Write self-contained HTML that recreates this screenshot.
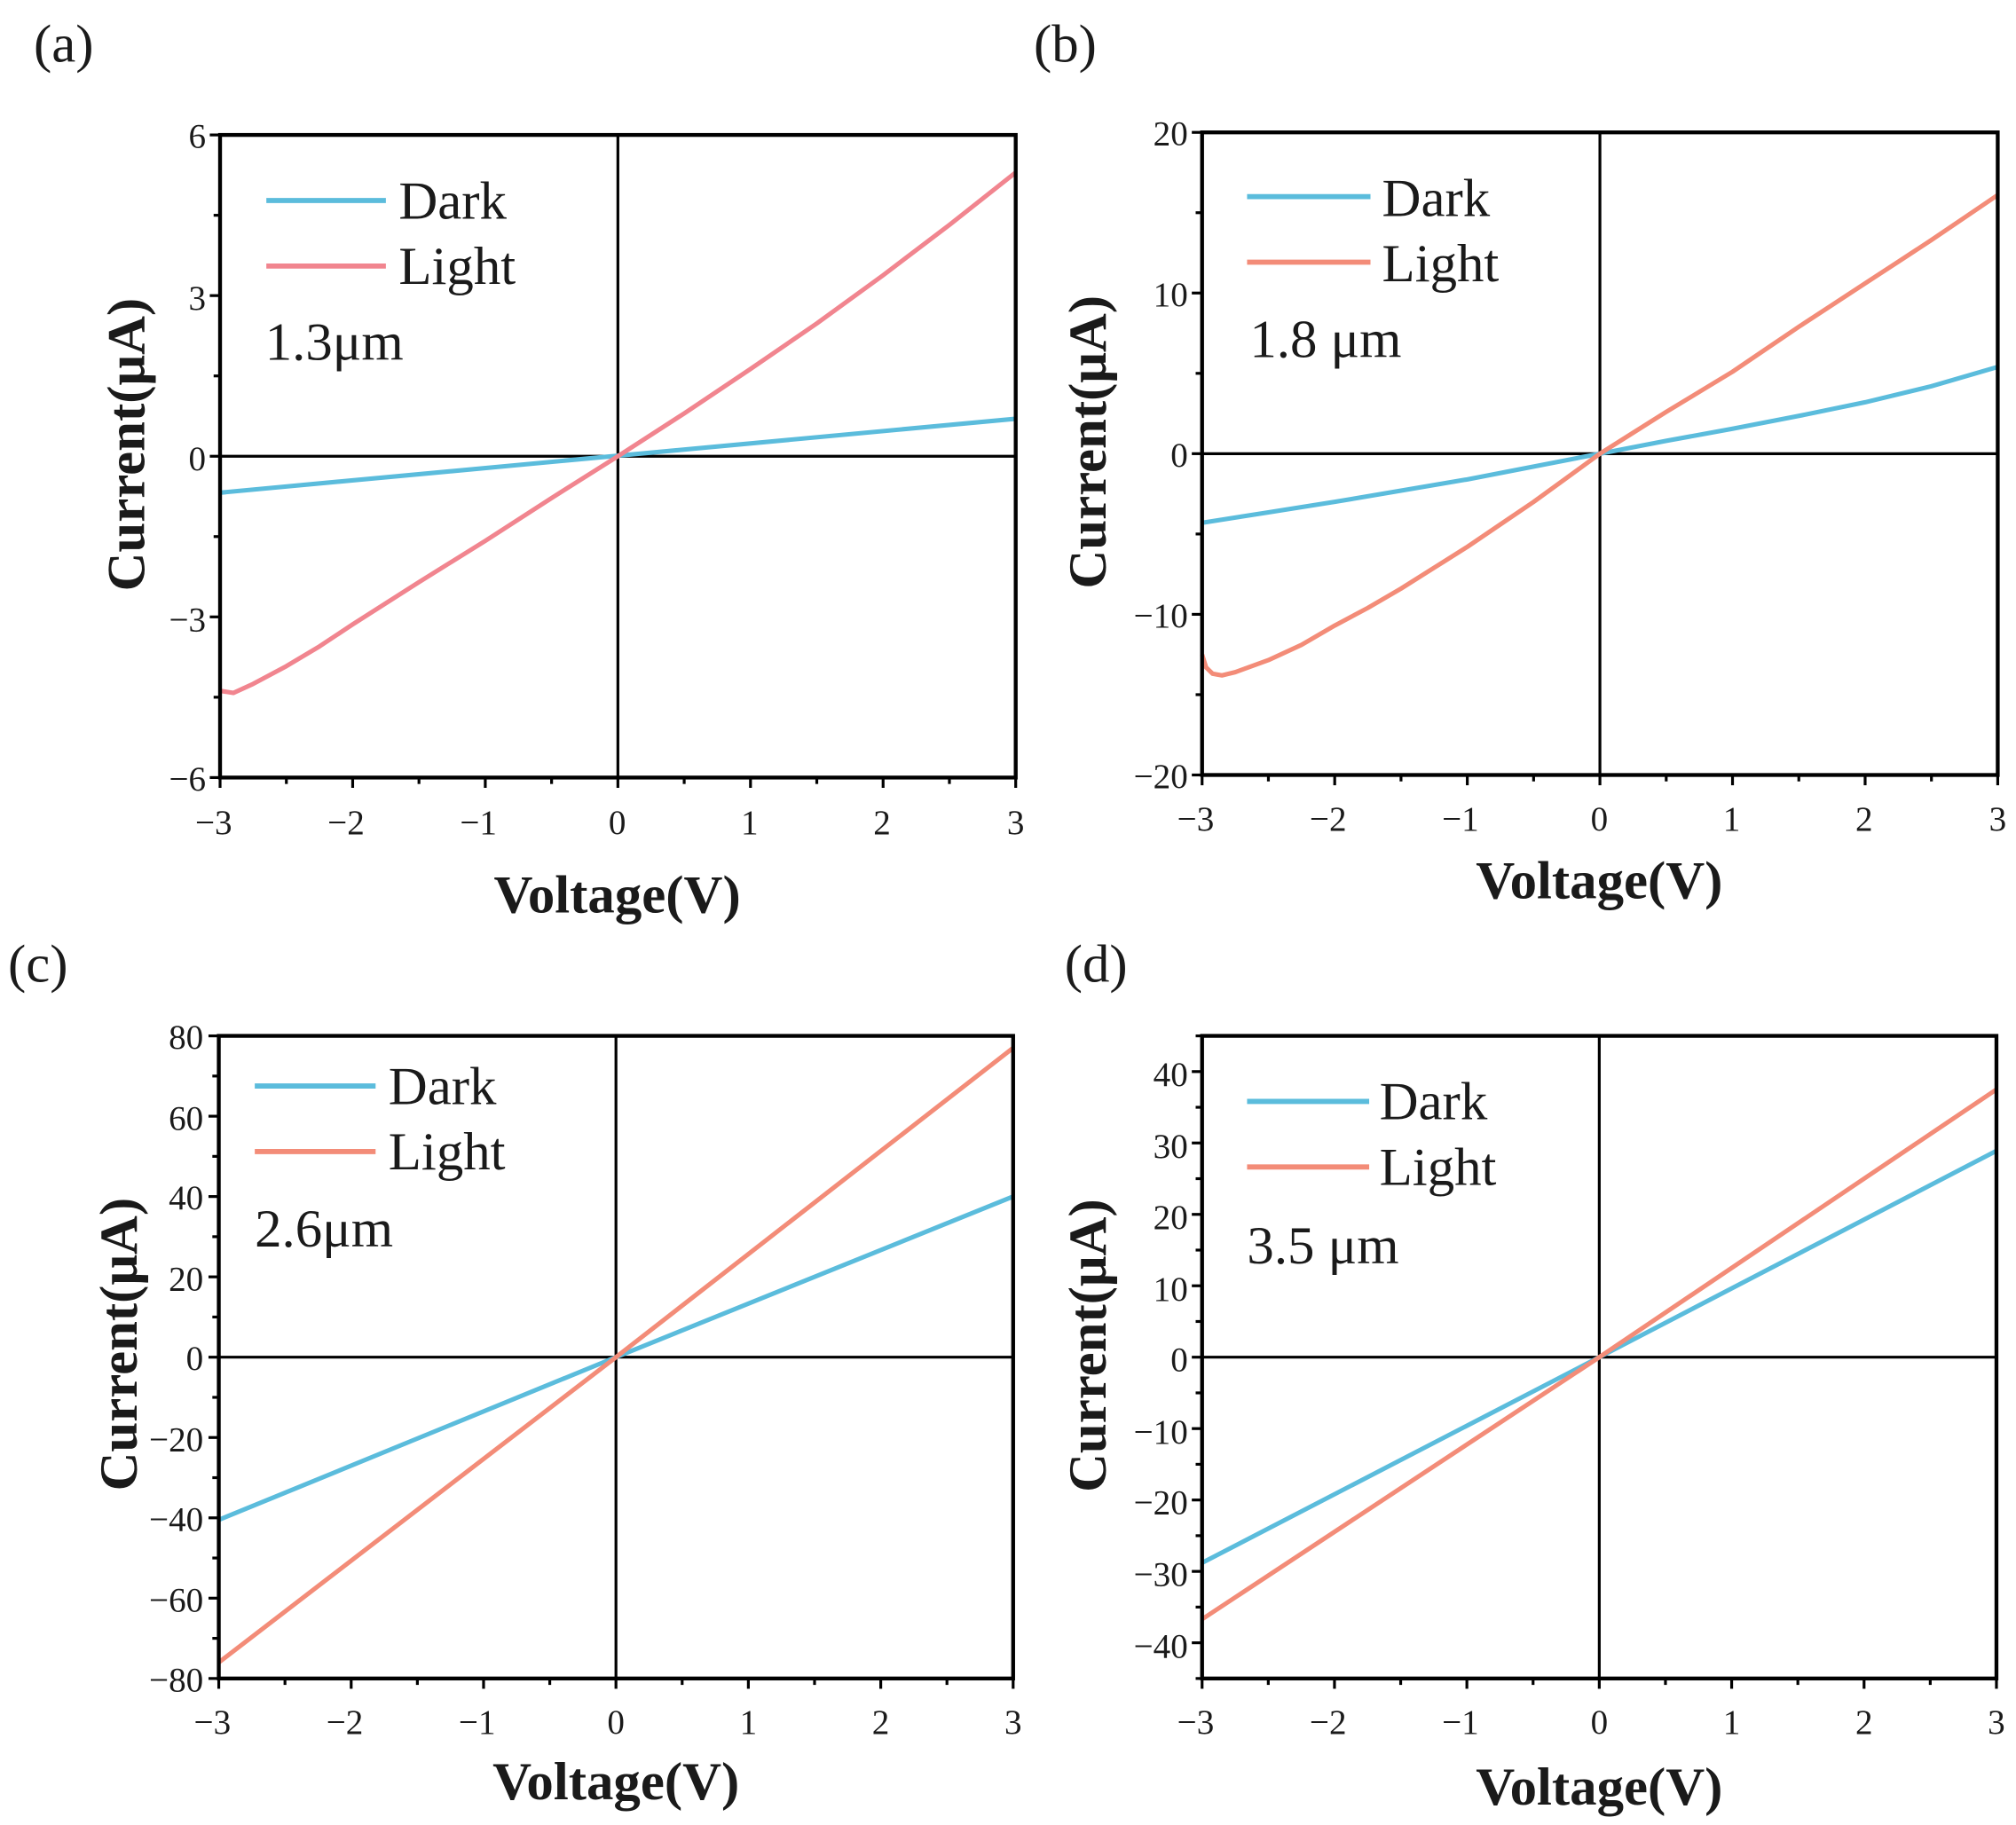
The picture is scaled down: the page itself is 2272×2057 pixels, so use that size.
<!DOCTYPE html>
<html><head><meta charset="utf-8">
<style>
html,body{margin:0;padding:0;background:#fff;}
svg{display:block;}
text{font-family:"Liberation Serif",serif;fill:#1a1a1a;}
.t{font-size:27px;}
.ax{font-size:42px;font-weight:bold;}
.lg{font-size:42px;}
.pl{font-size:42px;}
</style></head><body>
<svg id="s" width="2272" height="2057" viewBox="0 0 1568 1420" xmlns="http://www.w3.org/2000/svg">
<g id="g"></g>
<text class="pl" x="26" y="48">(a)</text>
<text class="pl" x="804" y="48">(b)</text>
<text class="pl" x="6" y="764">(c)</text>
<text class="pl" x="828" y="764">(d)</text>

<!-- (a) -->
<g class="t" text-anchor="end">
<text x="160" y="115">6</text><text x="160" y="241">3</text><text x="160" y="366">0</text><text x="160" y="491">−3</text><text x="160" y="615">−6</text>
</g>
<g class="t" text-anchor="middle">
<text x="166" y="649">−3</text><text x="269" y="649">−2</text><text x="372" y="649">−1</text><text x="480" y="649">0</text><text x="583" y="649">1</text><text x="686" y="649">2</text><text x="790" y="649">3</text>
</g>
<text class="ax" x="480" y="710" text-anchor="middle">Voltage(V)</text>
<text class="ax" transform="translate(112,346) rotate(-90)" text-anchor="middle">Current(μA)</text>
<text class="lg" x="310" y="170">Dark</text><text class="lg" x="310" y="221">Light</text>
<text class="lg" x="206" y="280">1.3μm</text>

<!-- (b) -->
<g class="t" text-anchor="end">
<text x="924" y="113">20</text><text x="924" y="238">10</text><text x="924" y="363">0</text><text x="924" y="488">−10</text><text x="924" y="613">−20</text>
</g>
<g class="t" text-anchor="middle">
<text x="930" y="646">−3</text><text x="1033" y="646">−2</text><text x="1136" y="646">−1</text><text x="1244" y="646">0</text><text x="1347" y="646">1</text><text x="1450" y="646">2</text><text x="1554" y="646">3</text>
</g>
<text class="ax" x="1244" y="699" text-anchor="middle">Voltage(V)</text>
<text class="ax" transform="translate(860,344) rotate(-90)" text-anchor="middle">Current(μA)</text>
<text class="lg" x="1075" y="168">Dark</text><text class="lg" x="1075" y="219">Light</text>
<text class="lg" x="972" y="278">1.8 μm</text>

<!-- (c) -->
<g class="t" text-anchor="end">
<text x="158" y="816">80</text><text x="158" y="879">60</text><text x="158" y="941">40</text><text x="158" y="1004">20</text><text x="158" y="1066">0</text><text x="158" y="1129">−20</text><text x="158" y="1191">−40</text><text x="158" y="1254">−60</text><text x="158" y="1316">−80</text>
</g>
<g class="t" text-anchor="middle">
<text x="165" y="1349">−3</text><text x="268" y="1349">−2</text><text x="371" y="1349">−1</text><text x="479" y="1349">0</text><text x="582" y="1349">1</text><text x="685" y="1349">2</text><text x="788" y="1349">3</text>
</g>
<text class="ax" x="479" y="1400" text-anchor="middle">Voltage(V)</text>
<text class="ax" transform="translate(106,1046) rotate(-90)" text-anchor="middle">Current(μA)</text>
<text class="lg" x="302" y="859">Dark</text><text class="lg" x="302" y="910">Light</text>
<text class="lg" x="198" y="970">2.6μm</text>

<!-- (d) -->
<g class="t" text-anchor="end">
<text x="924" y="845">40</text><text x="924" y="901">30</text><text x="924" y="956">20</text><text x="924" y="1012">10</text><text x="924" y="1067">0</text><text x="924" y="1123">−10</text><text x="924" y="1178">−20</text><text x="924" y="1234">−30</text><text x="924" y="1290">−40</text>
</g>
<g class="t" text-anchor="middle">
<text x="930" y="1349">−3</text><text x="1033" y="1349">−2</text><text x="1136" y="1349">−1</text><text x="1244" y="1349">0</text><text x="1347" y="1349">1</text><text x="1450" y="1349">2</text><text x="1553" y="1349">3</text>
</g>
<text class="ax" x="1244" y="1404" text-anchor="middle">Voltage(V)</text>
<text class="ax" transform="translate(860,1047) rotate(-90)" text-anchor="middle">Current(μA)</text>
<text class="lg" x="1073" y="871">Dark</text><text class="lg" x="1073" y="922">Light</text>
<text class="lg" x="970" y="983">3.5 μm</text>
</svg>
<script>
(function(){
var NS="http://www.w3.org/2000/svg",g=document.getElementById("g");
function el(n,a){var e=document.createElementNS(NS,n);for(var k in a)e.setAttribute(k,a[k]);g.appendChild(e);return e;}
var BL="#5bbcdc",PK="#f1858f",SA="#f38c78";
var P=[
 {L:171,R:790,T:105,B:605,y0:-6,y1:6,maj:3,min:1.5,lc:PK,
  dark:[[-3,-0.68],[3,0.7]],
  light:[[-3,-4.38],[-2.9,-4.42],[-2.75,-4.25],[-2.5,-3.92],[-2.25,-3.55],[-2,-3.14],[-1.5,-2.35],[-1,-1.58],[-0.5,-0.78],[0,0],[0.5,0.8],[1,1.63],[1.5,2.48],[2,3.38],[2.5,4.32],[3,5.3]],
  leg:[207,300,156,207]},
 {L:935,R:1554,T:103,B:603,y0:-20,y1:20,maj:10,min:5,lc:SA,
  dark:[[-3,-4.3],[-2.5,-3.65],[-2,-3.0],[-1.5,-2.3],[-1,-1.6],[-0.5,-0.8],[0,0],[0.5,0.8],[1,1.55],[1.5,2.35],[2,3.2],[2.5,4.2],[3,5.4]],
  light:[[-3,-12.5],[-2.97,-13.3],[-2.92,-13.7],[-2.85,-13.8],[-2.75,-13.6],[-2.5,-12.85],[-2.25,-11.9],[-2,-10.7],[-1.75,-9.6],[-1.5,-8.4],[-1.25,-7.1],[-1,-5.8],[-0.75,-4.4],[-0.5,-3],[-0.25,-1.5],[0,0],[0.25,1.3],[0.5,2.6],[0.75,3.85],[1,5.1],[1.25,6.5],[1.5,7.9],[1.75,9.25],[2,10.6],[2.25,11.95],[2.5,13.3],[2.75,14.7],[3,16.1]],
  leg:[970,1066,153,204]},
 {L:170,R:788,T:806,B:1306,y0:-80,y1:80,maj:20,min:10,lc:SA,
  dark:[[-3,-40.5],[0,0],[3,40]],
  light:[[-3,-76],[0,0],[3,77]],
  leg:[198,292,845,896]},
 {L:935,R:1553,T:806,B:1306,y0:-45,y1:45,maj:10,min:5,lc:SA,
  dark:[[-3,-28.8],[0,0],[3,28.9]],
  light:[[-3,-36.7],[0,0],[3,37.5]],
  leg:[970,1065,857,908]}
];
P.forEach(function(p){
 function X(v){return p.L+(v+3)/6*(p.R-p.L);}
 function Y(v){return p.B-(v-p.y0)/(p.y1-p.y0)*(p.B-p.T);}
 function pl(d,c){el("polyline",{points:d.map(function(q){return X(q[0])+","+Y(q[1]);}).join(" "),fill:"none",stroke:c,"stroke-width":3.5,"stroke-linejoin":"round"});}
 el("line",{x1:X(0),y1:p.T,x2:X(0),y2:p.B,stroke:"#000","stroke-width":2.2});
 el("line",{x1:p.L,y1:Y(0),x2:p.R,y2:Y(0),stroke:"#000","stroke-width":2.2});
 pl(p.dark,BL);pl(p.light,p.lc);
 el("rect",{x:p.L,y:p.T,width:p.R-p.L,height:p.B-p.T,fill:"none",stroke:"#000","stroke-width":3});
 for(var v=-3;v<=3.001;v+=0.5){var maj=Math.abs(v-Math.round(v))<1e-6;el("line",{x1:X(v),y1:p.B,x2:X(v),y2:p.B+(maj?8:5),stroke:"#000","stroke-width":2.2});}
 var start=Math.ceil(p.y0/p.min)*p.min;
 for(var w=start;w<=p.y1+1e-6;w+=p.min){var mj=Math.abs(w/p.maj-Math.round(w/p.maj))<1e-6;el("line",{x1:p.L,y1:Y(w),x2:p.L-(mj?8:5),y2:Y(w),stroke:"#000","stroke-width":2.2});}
 el("line",{x1:p.leg[0],y1:p.leg[2],x2:p.leg[1],y2:p.leg[2],stroke:BL,"stroke-width":4});
 el("line",{x1:p.leg[0],y1:p.leg[3],x2:p.leg[1],y2:p.leg[3],stroke:p.lc,"stroke-width":4});
});
})();
</script>
</body></html>
